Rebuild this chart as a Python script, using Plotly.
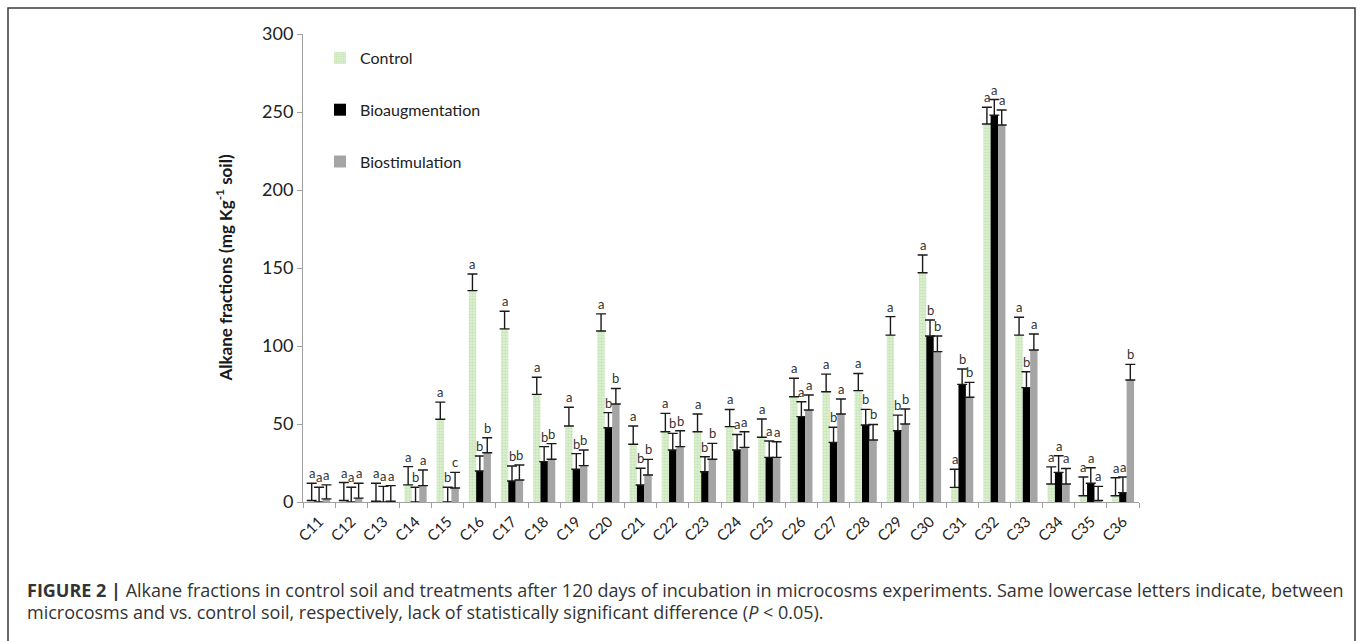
import plotly.graph_objects as go

categories = ["C11","C12","C13","C14","C15","C16","C17","C18","C19","C20","C21","C22","C23",
              "C24","C25","C26","C27","C28","C29","C30","C31","C32","C33","C34","C35","C36"]

control      = [1, 1, 0.5, 11, 53, 135.5, 111, 69, 48.7, 109.6, 37, 45, 45,
                48.3, 41.5, 67.5, 70.7, 71.4, 107, 147, 9.4, 242.3, 107, 11.5, 4, 4]
control_err  = [11, 11.5, 11.5, 11.7, 11, 10.7, 11.3, 11, 12, 11, 11.7, 11.8, 11.4,
                11, 11.7, 11.8, 11.3, 11, 11.8, 11.3, 11.6, 10.7, 11.4, 11, 12, 11.5]
bioaug       = [0, 0, 0, 0, 0, 19.9, 13.5, 25.9, 21, 47.6, 10.9, 33.3, 19.4,
                33.3, 28.6, 54.7, 38.2, 49.4, 45.7, 106.4, 75.4, 248, 73.3, 19, 12, 6]
bioaug_err   = [9.5, 9.5, 10, 9.5, 9.5, 9.6, 9.6, 9.6, 10, 9.7, 10.7, 10.7, 9.6,
                10, 10.5, 9.6, 9.7, 10, 10, 10.3, 9.9, 10, 10.2, 10.6, 10, 10]
biostim      = [2, 2.5, 0.5, 10.5, 9, 31.6, 14.1, 27.4, 23.3, 62.8, 17.3, 35.5, 27.4,
                35, 28.6, 59, 56.4, 39.7, 50, 96.4, 67.1, 241.7, 97.4, 11.5, 1, 78.2]
biostim_err  = [9, 9.5, 10, 10, 10, 9.6, 9.6, 10, 10, 10, 10, 10.2, 10.2,
                10, 10, 9.6, 9.6, 10, 9.6, 10, 9.6, 9.6, 10.3, 10, 9, 10]

letters_control = ["a","a","a","a","a","a","a","a","a","a","a","a","a",
                   "a","a","a","a","a","a","a","a","a","a","a","a","a"]
letters_bioaug  = ["a","a","a","b","b","b","b","b","b","b","b","b","b",
                   "a","a","a","b","b","b","b","b","a","b","a","a","a"]
letters_biostim = ["a","a","a","a","c","b","b","b","b","b","b","b","b",
                   "a","a","a","a","b","b","b","b","a","a","a","a","b"]

series_names = ["Control", "Bioaugmentation", "Biostimulation"]
yticks = [0, 50, 100, 150, 200, 250, 300]

caption_1 = ("<b>FIGURE 2 |</b> Alkane fractions in control soil and treatments after 120 days of "
             "incubation in microcosms experiments. Same lowercase letters indicate, between")
caption_2 = ("microcosms and vs. control soil, respectively, lack of statistically significant "
             "difference (<i>P</i> &lt; 0.05).")

# ---- layout geometry (pixels) ----
W, H = 1358, 641
L, R = 303, 1139
T, B = 34, 502

def px(x):
    return (x - L) / (R - L)

def py(y):
    return (B - y) / (B - T)

FONT = "Lato, 'Open Sans', sans-serif"
CAP_FONT = "'Open Sans', 'Liberation Sans', Arial, sans-serif"

fig = go.Figure()

err_style = dict(type="data", symmetric=False, color="#1a1a1a", thickness=1.4, width=5)

fig.add_trace(go.Bar(
    name=series_names[0], x=categories, y=control, legendgroup="g1",
    marker=dict(color="#e4f3db", line=dict(width=0),
                pattern=dict(shape=".", fgcolor="#a9d892", bgcolor="#e4f3db", size=3, solidity=0.6)),
    error_y=dict(array=control_err, arrayminus=[0]*len(control), **err_style),
))
fig.add_trace(go.Bar(
    name=series_names[1], x=categories, y=bioaug, legendgroup="g2",
    marker=dict(color="#000000", line=dict(width=0)),
    error_y=dict(array=bioaug_err, arrayminus=[0]*len(bioaug), **err_style),
))
fig.add_trace(go.Bar(
    name=series_names[2], x=categories, y=biostim, legendgroup="g3",
    marker=dict(color="#a5a5a5", line=dict(width=0)),
    error_y=dict(array=biostim_err, arrayminus=[0]*len(biostim), **err_style),
))

# letters above the error bars
slot = (R - L) / len(categories)
bargap = 0.31
bw = slot * (1 - bargap) / 3
annotations = []
for k, (vals, errs, labs) in enumerate([(control, control_err, letters_control),
                                        (bioaug, bioaug_err, letters_bioaug),
                                        (biostim, biostim_err, letters_biostim)]):
    for c, v, e, t in zip(categories, vals, errs, labs):
        annotations.append(dict(x=c, y=v + e, xref="x", yref="y", text=t, showarrow=False,
                                xshift=(k - 1) * bw, yshift=10,
                                font=dict(family=FONT, size=13, color="#333333")))

# y-axis title
annotations.append(dict(x=px(210), y=py(268), xref="paper", yref="paper",
                        text="<b>Alkane fractions (mg Kg<sup>-1</sup> soil)</b>", textangle=-90,
                        showarrow=False, font=dict(family=FONT, size=17, color="#1a1a1a")))
# caption
annotations.append(dict(x=px(25), y=py(590), xref="paper", yref="paper", xanchor="left",
                        yanchor="middle", text=caption_1, showarrow=False, align="left",
                        font=dict(family=CAP_FONT, size=18, color="#333333")))
annotations.append(dict(x=px(25), y=py(612), xref="paper", yref="paper", xanchor="left",
                        yanchor="middle", text=caption_2, showarrow=False, align="left",
                        font=dict(family=CAP_FONT, size=18, color="#333333")))

shapes = [dict(type="rect", xref="paper", yref="paper",
               x0=px(8), x1=px(1355), y0=py(660), y1=py(8),
               line=dict(color="#3a3a3a", width=1.5), layer="below")]

fig.update_layout(
    width=W, height=H,
    margin=dict(l=L, r=W - R, t=T, b=H - B),
    paper_bgcolor="white", plot_bgcolor="white",
    barmode="group", bargap=bargap, bargroupgap=0,
    font=dict(family=FONT, color="#222222"),
    showlegend=True,
    legend=dict(x=px(320), y=py(41), xanchor="left", yanchor="top",
                font=dict(family=FONT, size=16, color="#222222"),
                tracegroupgap=28, bgcolor="rgba(0,0,0,0)", itemwidth=30),
    annotations=annotations,
    shapes=shapes,
)
fig.update_xaxes(type="category", showline=True, linecolor="#a0a0a0", linewidth=1,
                 ticks="outside", tickson="boundaries", ticklen=5, tickcolor="#a0a0a0",
                 tickangle=-45, tickfont=dict(family=FONT, size=15, color="#222222"),
                 ticklabelstandoff=4, showgrid=False, zeroline=False)
fig.update_yaxes(range=[0, 300], tickvals=yticks, showline=True, linecolor="#a0a0a0", linewidth=1,
                 ticks="outside", ticklen=5, tickcolor="#a0a0a0",
                 tickfont=dict(family=FONT, size=18, color="#222222"),
                 showgrid=False, zeroline=False)

fig.write_html("out.html")
